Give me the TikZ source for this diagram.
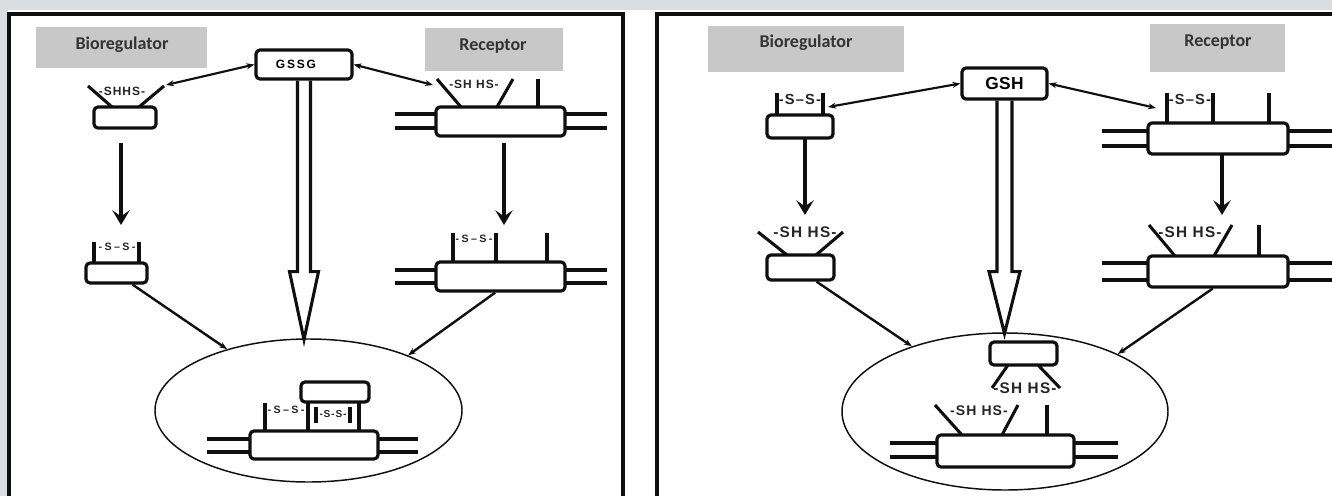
\documentclass[tikz,border=0pt]{standalone}
\usepackage{fontspec}
\setmainfont{Carlito}
\newfontfamily\shfont{Liberation Sans}[LetterSpace=8]
\usetikzlibrary{shapes.geometric, arrows.meta, calc}
\definecolor{bgc}{RGB}{220,221,223}
\definecolor{labgray}{RGB}{200,200,200}
\definecolor{ink}{RGB}{15,15,15}
\tikzset{
  frame/.style={draw=ink, line width=2.4pt},
  graybox/.style 2 args={fill=labgray, draw=none, minimum width=#1*0.75pt, minimum height=#2*0.75pt, inner sep=0pt},
  lab/.style={font=\bfseries\fontsize{13.5}{15}\selectfont, text=black!80, inner sep=0pt},
  box/.style 2 args={draw=ink, fill=white, line width=2.4pt, rounded corners=3pt, minimum width=#1*0.75pt, minimum height=#2*0.75pt, inner sep=0pt},
  bar/.style={draw=ink, line width=2.3pt},
  sh/.style={font=\shfont\bfseries\fontsize{#1}{#1}\selectfont, text=black!85, inner sep=0pt},
  sh/.default=8,
  ss/.style={font=\shfont\bfseries\fontsize{#1}{#1}\selectfont\addfontfeature{LetterSpace=22}, text=black!85, inner sep=0pt},
  dbl/.style={draw=ink, line width=1.6pt, {Stealth[length=6pt,width=4.5pt]}-{Stealth[length=6pt,width=4.5pt]}},
  varr/.style={draw=ink, line width=2.3pt, -{Stealth[length=11pt,width=13pt,inset=4.5pt]}},
  darr/.style={draw=ink, line width=1.8pt, -{Stealth[length=6pt,width=4.5pt]}},
  hollow/.style={draw=ink, line width=2.3pt, line join=miter},
  cell/.style 2 args={draw=ink, line width=1.1pt, ellipse, minimum width=#1*0.75pt, minimum height=#2*0.75pt, inner sep=0pt},
}
\begin{document}
\begin{tikzpicture}[x=0.75pt,y=-0.75pt]
\useasboundingbox (0,0) rectangle (1332,496);
\fill[bgc] (0,0) rectangle (1332,496);
\fill[white] (8,10) rectangle (1332,496);
\draw[frame] (9,14) rectangle (623,510);
\draw[frame] (657,14) rectangle (1345,510);

% ================= LEFT PANEL =================
\node[graybox={171}{41}] (bioL) at (121.5,47.5) {};
\node[lab] (bioLt) at (122,45) {Bioregulator};
\node[graybox={138}{43}] (recL) at (494,49.5) {};
\node[lab] (recLt) at (493,46) {Receptor};

\node[box={96}{29}, font=\shfont\bfseries\fontsize{9}{9}\selectfont\addfontfeature{LetterSpace=15}] (gssg) at (304,64.5) {GSSG\hspace*{12pt}};

% bioregulator, reduced
\draw[bar] (88,86) -- (112,107);
\draw[bar] (164,86) -- (139,107);
\node[box={62}{21}] (bL1) at (125,117.5) {};
\node[sh=9] (bL1t) at (122,91) {-SHHS-};
\coordinate (bL1tip) at (166,85);

% bioregulator, oxidised
\draw[bar] (94,242) -- (94,263);
\draw[bar] (139,242) -- (139,263);
\node[box={61}{20}] (bL2) at (116.5,273) {};
\node[ss=8] (bL2t) at (117,247) {-S–S-};

% receptor, reduced
\draw[bar] (395,114) -- (607,114);
\draw[bar] (395,128) -- (607,128);
\draw[bar] (437,79) -- (461,107);
\draw[bar] (513,79) -- (497,107);
\draw[bar] (538,79) -- (538,107);
\node[box={129}{29}] (rL1) at (500.5,121.5) {};
\node[sh=9] (rL1t) at (474,84) {-SH HS-};
\coordinate (rL1tip) at (433,85);

% receptor, oxidised
\draw[bar] (395,270) -- (607,270);
\draw[bar] (395,283) -- (607,283);
\draw[bar] (453,233) -- (453,262);
\draw[bar] (496,233) -- (496,262);
\draw[bar] (547,233) -- (547,262);
\node[box={129}{29}] (rL2) at (500.5,276.5) {};
\node[ss=8] (rL2t) at (474,239) {-S–S-};

% cell
\node[cell={307}{143}] (ellL) at (308.5,410.5) {};
\draw[bar] (207,439) -- (418,439);
\draw[bar] (207,452) -- (418,452);
\draw[bar] (265,403) -- (265,431);
\draw[bar] (308,400) -- (308,431);
\draw[bar] (359,400) -- (359,431);
\draw[bar] (316,407) -- (316,423);
\draw[bar] (350,407) -- (350,423);
\node[box={128}{28}] (ebL) at (314,445) {};
\node[box={68}{20}] (etL) at (335,392) {};
\node[ss=8] (ebLt) at (286,410) {-S–S-};
\node[sh=7.6] (etLt) at (333,414) {-S-S-};

% connectors left
\draw[dbl] (bL1tip) -- (gssg.west);
\draw[dbl] (gssg.east) -- (rL1tip);
\coordinate (vL1a) at (121,143);
\coordinate (vL1b) at (121,225);
\draw[varr] (vL1a) -- (vL1b);
\coordinate (vL2a) at (504,143);
\coordinate (vL2b) at (504,225);
\draw[varr] (vL2a) -- (vL2b);
\draw[darr] ($(bL2.south)!0.5!(bL2.south east)$) -- (ellL.143);
\draw[darr] ([xshift=-4pt]rL2.south) -- (ellL.29);
\draw[hollow] (gssg.south) ++(-6.5,0) -- ++(0,191) -- ++(-8,0) -- ++(14.5,68) -- ++(14.5,-68) -- ++(-8,0) -- ++(0,-191);

% ================= RIGHT PANEL =================
\node[graybox={196}{46}] (bioR) at (806,49) {};
\node[lab] (bioRt) at (806,43) {Bioregulator};
\node[graybox={135}{48}] (recR) at (1217.5,48) {};
\node[lab] (recRt) at (1218,42) {Receptor};

\node[box={85}{31}, font=\shfont\bfseries\fontsize{13}{13}\selectfont\addfontfeature{LetterSpace=2}] (gsh) at (1004.5,83.5) {GSH};

% bioregulator, oxidised
\draw[bar] (777,93) -- (777,115);
\draw[bar] (823,93) -- (823,115);
\node[box={66}{23}] (bR1) at (800,126.5) {};
\node[sh=11] (bR1t) at (800,99) {-S–S-};
\coordinate (bR1tip) at (828,107);

% bioregulator, reduced
\draw[bar] (758,232) -- (787,255);
\draw[bar] (843,232) -- (816,255);
\node[box={67}{25}] (bR2) at (800.5,267.5) {};
\node[sh=11.5] (bR2t) at (805,232) {-SH HS-};

% receptor, oxidised
\draw[bar] (1102,131) -- (1340,131);
\draw[bar] (1102,146) -- (1340,146);
\draw[bar] (1167,93) -- (1167,123);
\draw[bar] (1213,93) -- (1213,123);
\draw[bar] (1269,93) -- (1269,123);
\node[box={140}{31}] (rR1) at (1218,138.5) {};
\node[sh=11] (rR1t) at (1190,99) {-S–S-};
\coordinate (rR1tip) at (1156,108);

% receptor, reduced
\draw[bar] (1102,263) -- (1340,263);
\draw[bar] (1102,280) -- (1340,280);
\draw[bar] (1149,225) -- (1175,256);
\draw[bar] (1232,225) -- (1214,256);
\draw[bar] (1259,225) -- (1259,256);
\node[box={140}{31}] (rR2) at (1218,271.5) {};
\node[sh=11.5] (rR2t) at (1190,232) {-SH HS-};

% cell
\node[cell={326}{157}] (ellR) at (1005,411.5) {};
\draw[bar] (1008,365) -- (992,388);
\draw[bar] (1038,365) -- (1060,388);
\node[box={67}{23}] (etR) at (1023.5,353.5) {};
\node[sh=11.5] (etRt) at (1025,388) {-SH HS-};
\draw[bar] (890,443) -- (1118,443);
\draw[bar] (890,457) -- (1118,457);
\draw[bar] (935,405) -- (962,435);
\draw[bar] (1018,405) -- (1002,435);
\draw[bar] (1047,405) -- (1047,435);
\node[box={137}{32}] (ebR) at (1005.5,451) {};
\node[sh=10.5] (ebRt) at (979,411) {-SH HS-};

% connectors right
\draw[dbl] (bR1tip) -- (gsh.west);
\draw[dbl] (gsh.east) -- (rR1tip);
\coordinate (vR1a) at (805,138);
\coordinate (vR1b) at (805,215);
\draw[varr] (vR1a) -- (vR1b);
\coordinate (vR2a) at (1222,154);
\coordinate (vR2b) at (1222,215);
\draw[varr] (vR2a) -- (vR2b);
\draw[darr] ([xshift=12pt]bR2.south) -- (ellR.145);
\draw[darr] ([xshift=-4pt]rR2.south) -- (ellR.27);
\draw[hollow] (gsh.south) ++(-7.5,0) -- ++(0,171) -- ++(-8,0) -- ++(15.5,62) -- ++(15.5,-62) -- ++(-8,0) -- ++(0,-171);
\end{tikzpicture}
\end{document}
